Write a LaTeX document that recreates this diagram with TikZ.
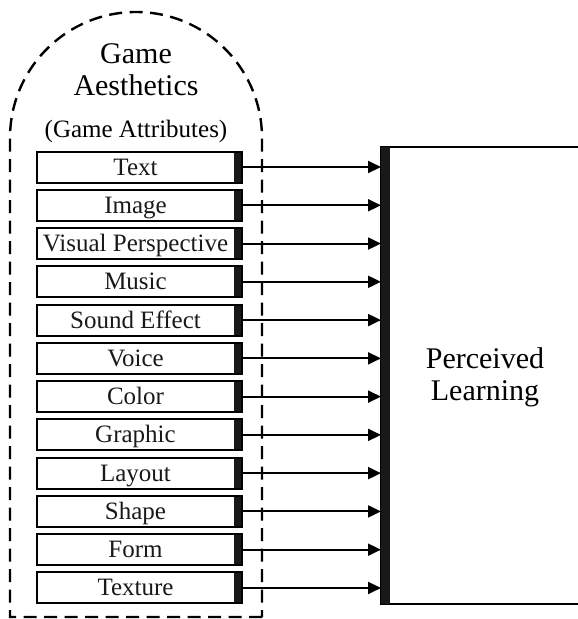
\documentclass[tikz,border=0pt]{standalone}
\usepackage{fontspec}
\setmainfont{Liberation Serif}
\usetikzlibrary{arrows.meta,calc}
\tikzset{
  attr/.style={draw, line width=2pt, rectangle, minimum width=205pt, minimum height=31pt,
    inner sep=0pt, text height=20pt, text depth=4pt, font=\fontsize{25}{28}\selectfont, text=black!90,
    path picture={\fill[black!90] ([xshift=-8pt]path picture bounding box.north east) rectangle (path picture bounding box.south east);}},
  conn/.style={line width=2pt, -{Triangle[length=13pt,width=12pt]}},
  dashbound/.style={line width=2.4pt, dash pattern=on 13pt off 7.5pt},
  title/.style={font=\fontsize{30}{32}\selectfont, align=center, anchor=base, inner sep=0pt},
  sub/.style={font=\fontsize{25}{28}\selectfont, anchor=base, inner sep=0pt},
}
\begin{document}
\begin{tikzpicture}[x=1pt,y=-1pt]
\useasboundingbox (0,0) rectangle (578,619);
% dashed boundary
\draw[dashbound] (262,617) -- (10,617) -- (10,138) arc (180:360:126) -- (262,617);
\node[title] (ga) at (136,95) {Game\\Aesthetics};
\node[sub] (gattr) at (136,137) {(Game Attributes)};
% right box
\coordinate (prTL) at (381,147);
\coordinate (prBL) at (381,604);
\draw[line width=2pt] (600,147) -- (prTL) -- (prBL) -- (600,604);
\fill[black!90] (prTL) rectangle ($(prBL)+(9,0)$);
\node[title] (pl) at (485,400) {Perceived\\Learning};
% attributes
\foreach \t [count=\i from 0] in {Text,Image,Visual Perspective,Music,Sound Effect,Voice,Color,Graphic,Layout,Shape,Form,Texture}{
  \node[attr] (b\i) at (139.5,{167+38.27*\i}) {\hspace*{-8pt}\t};
  \draw[conn] (b\i.east) -- (b\i.east -| prTL);
}
\end{tikzpicture}
\end{document}
